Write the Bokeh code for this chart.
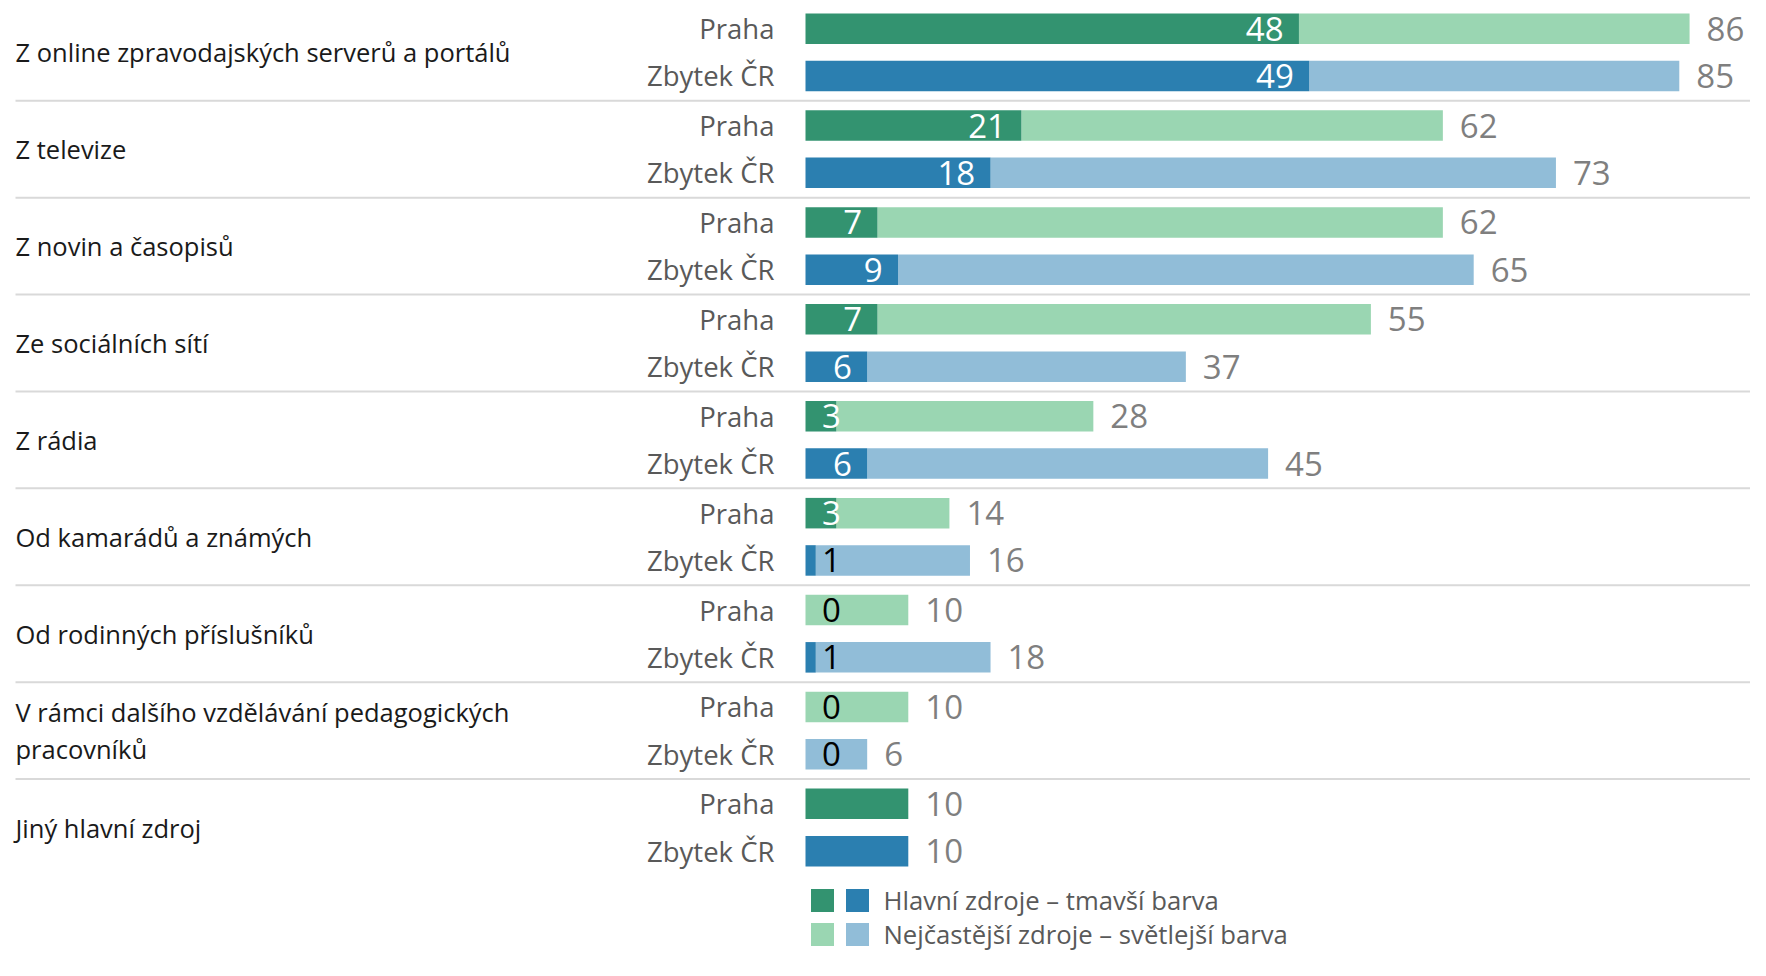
from bokeh.plotting import figure
from bokeh.models import Range1d
from bokeh.core.properties import value
from bokeh.embed import file_html
from bokeh.resources import INLINE

categories = [
    "Z online zpravodajských serverů a portálů",
    "Z televize",
    "Z novin a časopisů",
    "Ze sociálních sítí",
    "Z rádia",
    "Od kamarádů a známých",
    "Od rodinných příslušníků",
    "V rámci dalšího vzdělávání pedagogických\npracovníků",
    "Jiný hlavní zdroj",
]
groups = ["Praha", "Zbytek ČR"]
main_praha = [48, 21, 7, 7, 3, 3, 0, 0, 10]
main_cr = [49, 18, 9, 6, 6, 1, 1, 0, 10]
total_praha = [86, 62, 62, 55, 28, 14, 10, 10, 10]
total_cr = [85, 73, 65, 37, 45, 16, 18, 6, 10]
legend_labels = ["Hlavní zdroje – tmavší barva", "Nejčastější zdroje – světlejší barva"]

DARK = ["#339370", "#2B7FB0"]
LIGHT = ["#9AD6B2", "#91BDD8"]
FONT = value("Open Sans")

W, H = 1750, 960
PX = 10.28          # pixels per unit
X0 = 805            # pixel of value 0
PITCH = 96.9
Y0 = 51.8
p = figure(width=W, height=H, output_backend="svg", toolbar_location=None,
           x_range=Range1d(-X0 / PX, (W - X0) / PX),
           y_range=Range1d((H - Y0) / PITCH, -Y0 / PITCH),
           min_border=0, outline_line_color=None)
p.axis.visible = False
p.grid.visible = False

def xpx(px):
    return (px - X0) / PX

def ypx(py):
    return (py - Y0) / PITCH

off = [-0.244, 0.244]
bh = 0.315
n = len(categories)
NUM = "33px"
TXT = "25.5px"

# separators
sep_y = [i + 0.5 for i in range(n - 1)]
p.segment(x0=[xpx(15)] * len(sep_y), x1=[xpx(W)] * len(sep_y), y0=sep_y, y1=sep_y,
          line_color="#d9d9d9", line_width=2)

for g, (mains, totals) in enumerate([(main_praha, total_praha), (main_cr, total_cr)]):
    ys = [i + off[g] for i in range(n)]
    p.hbar(y=ys, left=mains, right=totals, height=bh, fill_color=LIGHT[g], line_color=None)
    p.hbar(y=ys, left=[0] * n, right=mains, height=bh, fill_color=DARK[g], line_color=None)
    # total labels
    p.text(x=[t + 1.65 for t in totals], y=ys, text=[str(t) for t in totals],
           text_font=FONT, text_font_size=NUM, text_color="#7F7F7F",
           text_align="left", text_baseline="middle")
    # inner labels
    big = [(y, m) for y, m, t in zip(ys, mains, totals) if m != t and m >= 5]
    small_w = [(y, m) for y, m, t in zip(ys, mains, totals) if m != t and 2 <= m < 5]
    small_b = [(y, m) for y, m, t in zip(ys, mains, totals) if m != t and m < 2]
    if big:
        p.text(x=[m - 1.5 for y, m in big], y=[y for y, m in big], text=[str(m) for y, m in big],
               text_font=FONT, text_font_size=NUM, text_color="white",
               text_align="right", text_baseline="middle")
    if small_w:
        p.text(x=[1.6 for y, m in small_w], y=[y for y, m in small_w], text=[str(m) for y, m in small_w],
               text_font=FONT, text_font_size=NUM, text_color="white",
               text_align="left", text_baseline="middle")
    if small_b:
        p.text(x=[1.6 for y, m in small_b], y=[y for y, m in small_b], text=[str(m) for y, m in small_b],
               text_font=FONT, text_font_size=NUM, text_color="black",
               text_align="left", text_baseline="middle")
    # group labels
    p.text(x=[xpx(774)] * n, y=ys, text=[groups[g]] * n, text_font=FONT, text_font_size="27.5px",
           text_color="#595959", text_align="right", text_baseline="middle")

# category labels
p.text(x=[xpx(15)] * n, y=list(range(n)), text=categories, text_font=FONT, text_font_size=TXT,
       text_color="#1a1a1a", text_align="left", text_baseline="middle", text_line_height=1.07)

# legend
ly = [ypx(900), ypx(934)]
for r in range(2):
    cols = [DARK, LIGHT][r]
    p.rect(x=[xpx(822), xpx(857)], y=[ly[r]] * 2, width=23, height=23, width_units="screen",
           height_units="screen", fill_color=cols, line_color=None)
    p.text(x=[xpx(883)], y=[ly[r]], text=[legend_labels[r]], text_font=FONT, text_font_size="25.7px",
           text_color="#595959", text_align="left", text_baseline="middle")

open("out.html", "w").write(file_html(p, INLINE))
